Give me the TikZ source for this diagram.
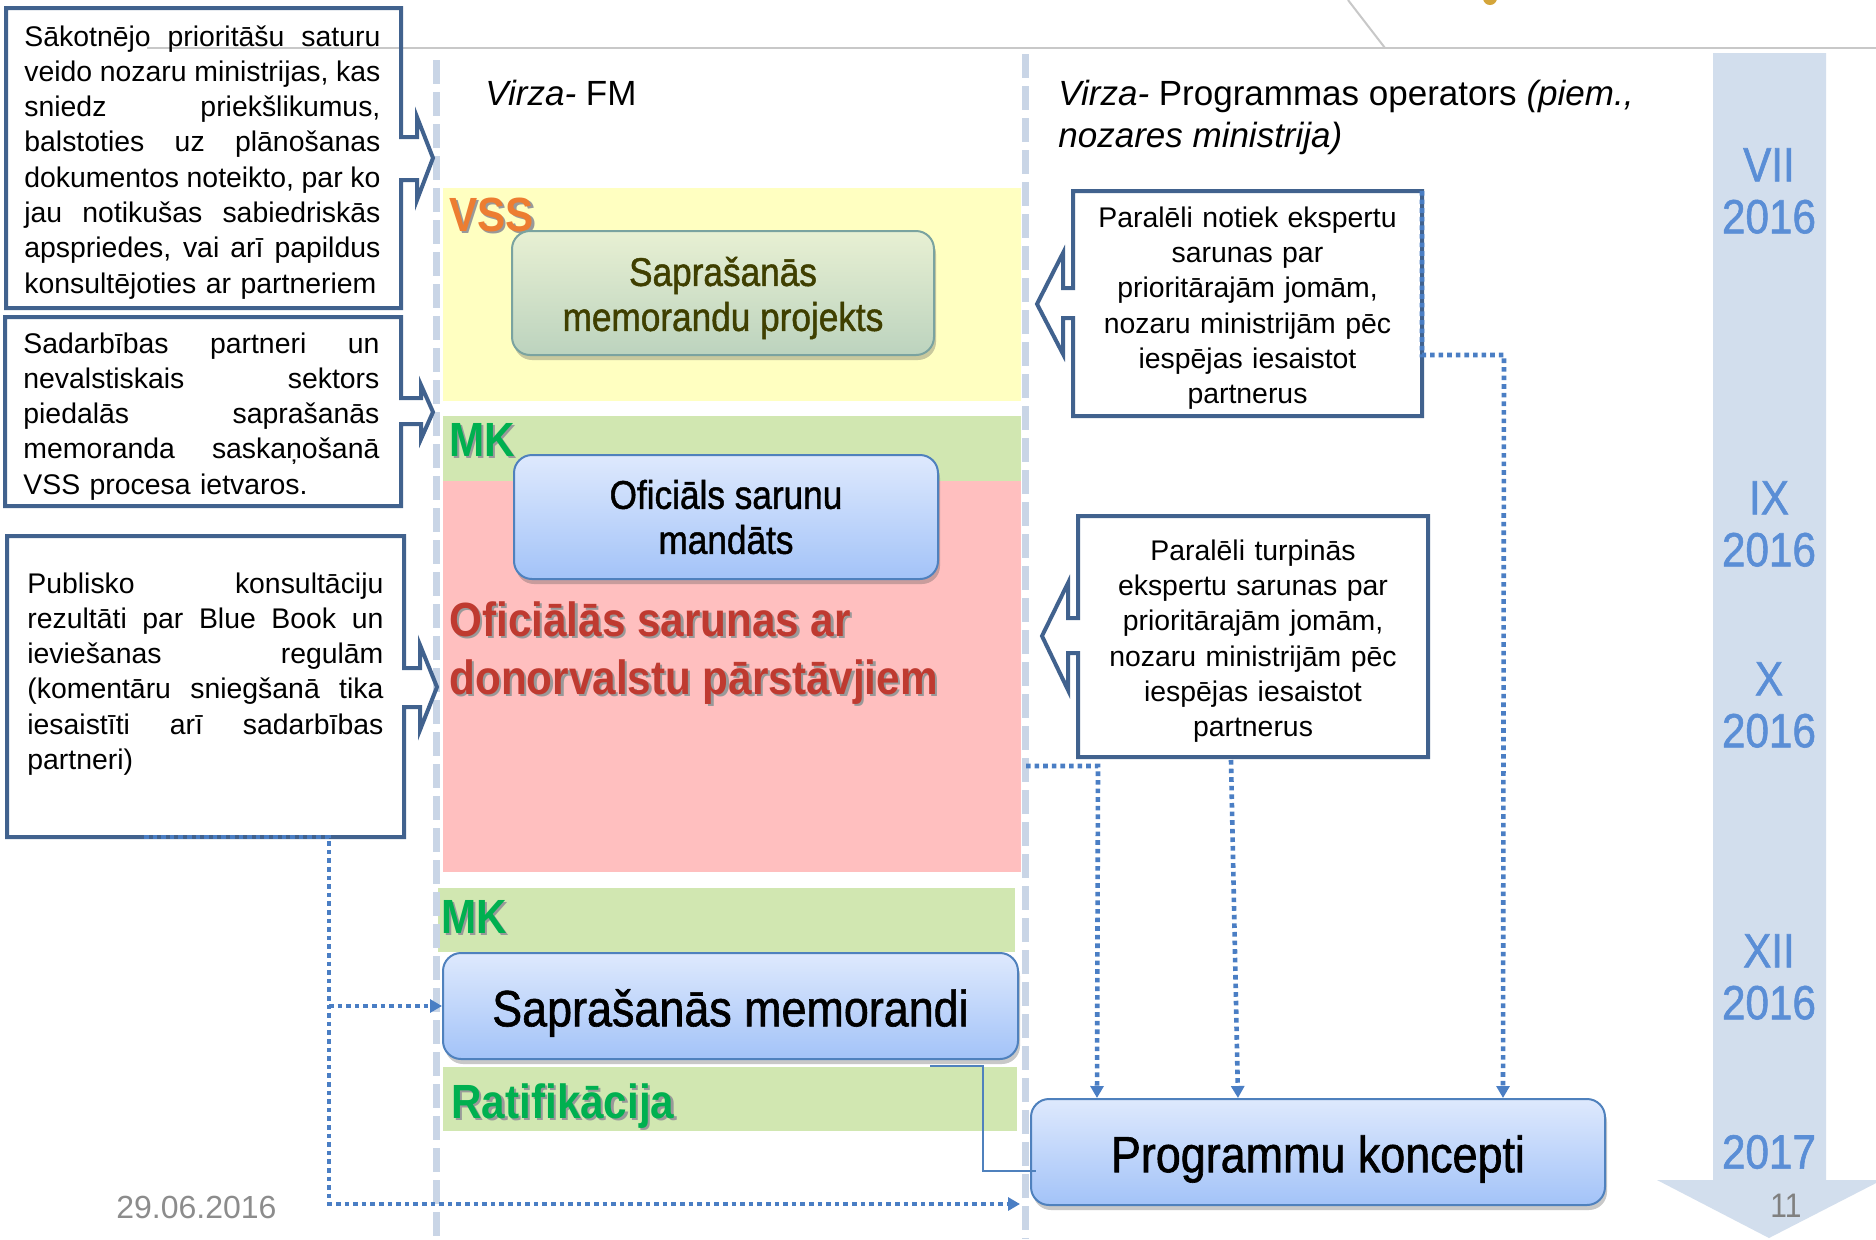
\documentclass[tikz,border=0pt]{standalone}
\usepackage{fontspec}
\setmainfont{Liberation Sans}
\newfontfamily\cond{Liberation Sans}[FakeStretch=0.88]
\newfontfamily\condm{Liberation Sans}[FakeStretch=0.88,FakeBold=1.2]
\usetikzlibrary{shadows,arrows.meta}
\definecolor{boxborder}{HTML}{41628E}
\definecolor{dashcol}{HTML}{C9D5E6}
\definecolor{bandyellow}{HTML}{FFFFC1}
\definecolor{bandgreen}{HTML}{D1E7B1}
\definecolor{bandpink}{HTML}{FFBFBF}
\definecolor{vssorange}{HTML}{ED7D31}
\definecolor{mkgreen}{HTML}{00B050}
\definecolor{redtitle}{HTML}{BF3A30}
\definecolor{dotblue}{HTML}{4A7EC4}
\definecolor{tlband}{HTML}{D2DEED}
\definecolor{tltext}{HTML}{5A8ED6}
\definecolor{olivetext}{HTML}{3F3F00}
\definecolor{gboxtop}{HTML}{E8F0D3}
\definecolor{gboxbot}{HTML}{BCD3BE}
\definecolor{gboxborder}{HTML}{7AA3A0}
\definecolor{bboxtop}{HTML}{DEE9FD}
\definecolor{bboxbot}{HTML}{A3C3F8}
\definecolor{bboxborder}{HTML}{4F81BD}
\definecolor{headgray}{HTML}{C8C8C8}
\definecolor{footgray}{HTML}{8C8C8C}
\definecolor{goldcol}{HTML}{D4A53A}
\newcommand\jline[1]{\makebox[178pt][s]{\spaceskip=0pt\xspaceskip=0pt #1}\\}
\newcommand\tshadow[1]{\rlap{\textcolor{black!40}{\kern1.2pt\raisebox{-1.2pt}{#1}}}#1}
\newcommand\lowered[2]{\raisebox{-#1}[\height][\depth]{#2}}
\tikzset{
  txtbox/.style={draw=boxborder, line width=2pt, line join=miter},
  jtext/.style={anchor=base west, inner sep=0pt, text width=178pt, align=left,
    font=\fontsize{14.2pt}{17.65pt}\selectfont},
  ctext/.style={inner sep=0pt, text width=170pt, align=center,
    font=\fontsize{14.2pt}{17.65pt}\selectfont},
  bandtitle/.style={anchor=base west, inner sep=0pt,
    font=\cond\bfseries\fontsize{24pt}{28.5pt}\selectfont},
  vline/.style={dashcol, line width=3.5pt, dash pattern=on 12pt off 4pt},
  softshadow/.style={drop shadow={shadow xshift=1pt, shadow yshift=-2.5pt, opacity=0.3, fill=black!70}},
  gbox/.style={draw=gboxborder, line width=1pt, rounded corners=9pt,
    top color=gboxtop, bottom color=gboxbot, softshadow, text=olivetext,
    align=center, inner sep=0pt, font=\condm\fontsize{20pt}{22.5pt}\selectfont},
  bbox/.style={draw=bboxborder, line width=1pt, rounded corners=9pt,
    top color=bboxtop, bottom color=bboxbot, softshadow, text=black,
    align=center, inner sep=0pt},
  dotconn/.style={dotblue, line width=2.3pt, dash pattern=on 2.3pt off 2pt,
    -{Triangle[length=6pt,width=6.5pt]}},
  thinconn/.style={bboxborder, line width=1pt},
  tl/.style={text=tltext, align=center, inner sep=0pt,
    font=\condm\fontsize{24pt}{26pt}\selectfont},
  head/.style={anchor=base west, inner sep=0pt, font=\fontsize{17.5pt}{21.5pt}\selectfont},
}
\begin{document}
\begin{tikzpicture}[x=0.5pt,y=-0.5pt]
\fill[white] (0,0) rectangle (1876,1239);
\useasboundingbox (0,0) rectangle (1876,1239);

% header decoration
\draw[headgray, line width=1pt] (147,48) -- (1876,48);
\draw[headgray, line width=1pt] (1348,0) -- (1385,48);
\fill[goldcol] (1490,-2) circle [radius=3.5pt];

% bands
\fill[bandyellow] (443,188) rectangle (1021,401);
\fill[bandgreen] (443,416) rectangle (1021,481);
\fill[bandpink] (443,481) rectangle (1021,872);
\fill[bandgreen] (438,888) rectangle (1015,952);
\fill[bandgreen] (443,1067) rectangle (1017,1131);

% vertical dashed lanes
\draw[vline] (436,60) -- (436,1239);
\draw[vline] (1025,54) -- (1025,1239);

% column headers
\node[head] (h1) at (485,105) {\textit{Virza-} FM};
\node[head] (h2a) at (1058,105) {\textit{Virza-} Programmas operators \textit{(piem.,}};
\node[head] (h2b) at (1058,147) {\textit{nozares ministrija)}};

% band titles
\node[bandtitle, text=vssorange] (vss) at (449,231) {\tshadow{VSS}};
\node[bandtitle, text=mkgreen] (mk1) at (449,456) {\tshadow{MK}};
\node[bandtitle, text=redtitle] (ofs1) at (449,636) {\tshadow{Oficiālās sarunas ar}};
\node[bandtitle, text=redtitle] (ofs2) at (449,694) {\tshadow{donorvalstu pārstāvjiem}};
\node[bandtitle, text=mkgreen] (mk2) at (441,933) {\tshadow{MK}};
\node[bandtitle, text=mkgreen] (rat) at (451,1118) {\tshadow{Ratifikācija}};

% process boxes
\node[gbox, minimum width=211pt, minimum height=62pt] (smp) at (723,293)
  {\lowered{2.5pt}{Saprašanās}\\\lowered{2.5pt}{memorandu projekts}};
\node[bbox, minimum width=212pt, minimum height=62pt,
  font=\condm\fontsize{20pt}{22.5pt}\selectfont] (osm) at (726,517)
  {Oficiāls sarunu\\mandāts};
\node[bbox, minimum width=287.5pt, minimum height=53pt,
  font=\condm\fontsize{25.5pt}{28pt}\selectfont] (sm) at (730.5,1006)
  {\lowered{3.5pt}{Saprašanās memorandi}};
\node[bbox, minimum width=287pt, minimum height=53pt,
  font=\condm\fontsize{25.5pt}{28pt}\selectfont] (pk) at (1318,1152)
  {\lowered{3.5pt}{Programmu koncepti}};

% left callout boxes
\draw[txtbox] (6,8) -- (401,8) -- (401,137) -- (417,137) -- (417,117) -- (433,158)
  -- (417,200) -- (417,180) -- (401,180) -- (401,308) -- (6,308) -- cycle;
\draw[txtbox] (5,317) -- (401,317) -- (401,398) -- (421,398) -- (421,385) -- (433,412)
  -- (421,439) -- (421,424) -- (401,424) -- (401,506) -- (5,506) -- cycle;
\draw[txtbox] (7,536) -- (404,536) -- (404,668) -- (420,668) -- (420,645) -- (437,687)
  -- (420,730) -- (420,707) -- (404,707) -- (404,837) -- (7,837) -- cycle;

\node[jtext] (t1) at (24,46) {%
\jline{Sākotnējo prioritāšu saturu}
\jline{veido nozaru ministrijas, kas}
\jline{sniedz priekšlikumus,}
\jline{balstoties uz plānošanas}
\jline{dokumentos noteikto, par ko}
\jline{jau notikušas sabiedriskās}
\jline{apspriedes, vai arī papildus}
konsultējoties ar partneriem};
\node[jtext] (t2) at (23,353) {%
\jline{Sadarbības partneri un}
\jline{nevalstiskais sektors}
\jline{piedalās saprašanās}
\jline{memoranda saskaņošanā}
VSS procesa ietvaros.};
\node[jtext] (t3) at (27,593) {%
\jline{Publisko konsultāciju}
\jline{rezultāti par Blue Book un}
\jline{ieviešanas regulām}
\jline{(komentāru sniegšanā tika}
\jline{iesaistīti arī sadarbības}
partneri)};

% right callout boxes
\node[ctext, minimum width=174.5pt, minimum height=112.5pt] (c1) at (1247.5,308)
  {Paralēli notiek ekspertu\\sarunas par\\prioritārajām jomām,\\nozaru ministrijām pēc\\iespējas iesaistot\\partnerus};
\node[ctext, minimum width=175pt, minimum height=120.5pt] (c2) at (1253,641)
  {Paralēli turpinās\\ekspertu sarunas par\\prioritārajām jomām,\\nozaru ministrijām pēc\\iespējas iesaistot\\partnerus};
\draw[txtbox] (1073,191) -- (1422,191) -- (1422,416) -- (1073,416) -- (1073,318)
  -- (1063,318) -- (1063,354) -- (1037,304) -- (1063,253) -- (1063,288) -- (1073,288) -- cycle;
\draw[txtbox] (1078,516) -- (1428,516) -- (1428,757) -- (1078,757) -- (1078,653)
  -- (1068,653) -- (1068,690) -- (1042,636) -- (1068,583) -- (1068,618) -- (1078,618) -- cycle;

% connectors
\coordinate (d1s) at (144,837);
\coordinate (d1k) at (329,837);
\coordinate (d1m) at (329,1006);
\coordinate (d1b) at (329,1204);
\coordinate (d1e) at (1020,1204);
\draw[dotconn] (d1s) -- (d1k) -- (d1b) -- (d1e);
\draw[dotconn] (d1m) -- (sm.west);
\coordinate (d2s) at (1026,766);
\coordinate (d2k) at (1098,766);
\draw[dotconn] (d2s) -- (d2k) -- ([xshift=33.5pt]pk.north west);
\coordinate (d3s) at (1231,760);
\draw[dotconn] (d3s) -- ([xshift=104pt]pk.north west);
\coordinate (d4t) at (1422,191);
\coordinate (d4k) at (1504,355);
\draw[dotconn] (d4t) -- (d4t |- d4k) -- (d4k) -- ([xshift=236.5pt]pk.north west);
\coordinate (ts) at (930,1066);
\coordinate (tk1) at (983,1066);
\coordinate (tk2) at (983,1171);
\coordinate (te) at (1036,1171);
\draw[thinconn] (ts) -- (tk1) -- (tk2) -- (te);

% timeline
\fill[tlband] (1713,53) -- (1826,53) -- (1826,1180) -- (1882,1180) -- (1769,1238)
  -- (1657,1180) -- (1713,1180) -- cycle;
\node[tl] (m7) at (1769,191) {VII\\2016};
\node[tl] (m9) at (1769,524) {IX\\2016};
\node[tl] (m10) at (1769,705) {X\\2016};
\node[tl] (m12) at (1769,977) {XII\\2016};
\node[tl] (y17) at (1769,1152) {2017};

% footer
\node[anchor=base west, inner sep=0pt, text=footgray, font=\fontsize{16pt}{18pt}\selectfont] (date) at (116,1218) {29.06.2016};
\node[inner sep=0pt, text=black!50, font=\cond\fontsize{17pt}{19pt}\selectfont] (pg) at (1786,1206) {11};
\end{tikzpicture}
\end{document}
